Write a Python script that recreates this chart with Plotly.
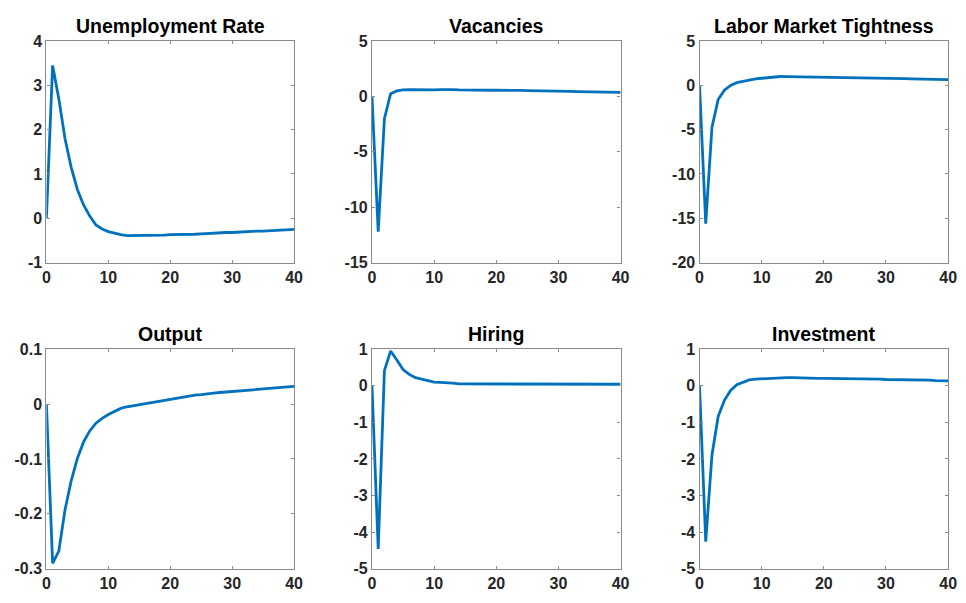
import plotly.graph_objects as go

t = list(range(41))

unemployment = [0, 3.45, 2.7, 1.8, 1.15, 0.65, 0.3, 0.05, -0.15, -0.24, -0.3, -0.34, -0.37, -0.39, -0.39,
                -0.39, -0.39, -0.39, -0.38, -0.38, -0.37, -0.37, -0.37, -0.36, -0.36, -0.35, -0.34, -0.34,
                -0.33, -0.32, -0.32, -0.31, -0.31, -0.30, -0.29, -0.29, -0.28, -0.27, -0.27, -0.26, -0.25]
vacancies = [0, -12.2, -2.0, 0.25, 0.5, 0.6, 0.62, 0.6, 0.62, 0.6, 0.6, 0.62, 0.64, 0.62, 0.6, 0.58,
             0.58, 0.57, 0.57, 0.56, 0.56, 0.57, 0.58, 0.56, 0.54, 0.52, 0.52, 0.5, 0.5, 0.49, 0.48,
             0.47, 0.46, 0.44, 0.43, 0.42, 0.41, 0.4, 0.39, 0.38, 0.37]
tightness = [0, -15.6, -4.75, -1.6, -0.55, 0.0, 0.3, 0.45, 0.65, 0.72, 0.8, 0.88, 0.98, 1.0, 0.98,
             0.97, 0.96, 0.95, 0.94, 0.93, 0.92, 0.93, 0.94, 0.92, 0.9, 0.88, 0.86, 0.85, 0.83, 0.81,
             0.8, 0.78, 0.76, 0.75, 0.73, 0.71, 0.7, 0.68, 0.67, 0.66, 0.65]
output = [0, -0.29, -0.268, -0.193, -0.14, -0.099, -0.069, -0.049, -0.035, -0.026, -0.019, -0.013,
          -0.008, -0.005, -0.003, -0.001, 0.001, 0.003, 0.005, 0.007, 0.008, 0.011, 0.013, 0.015,
          0.016, 0.017, 0.019, 0.02, 0.021, 0.022, 0.023, 0.024, 0.025, 0.026, 0.027, 0.028, 0.029,
          0.03, 0.03, 0.031, 0.032]
hiring = [0, -4.46, 0.41, 0.95, 0.7, 0.44, 0.31, 0.22, 0.18, 0.13, 0.1, 0.09, 0.09, 0.07, 0.05,
          0.05, 0.05, 0.05, 0.05, 0.05, 0.05, 0.05, 0.06, 0.05, 0.05, 0.04, 0.05, 0.04, 0.04, 0.04,
          0.04, 0.05, 0.04, 0.04, 0.04, 0.05, 0.04, 0.04, 0.04, 0.04, 0.04]
investment = [0, -4.26, -1.9, -0.84, -0.4, -0.13, 0.03, 0.1, 0.16, 0.18, 0.19, 0.21, 0.22, 0.22, 0.22,
              0.22, 0.21, 0.21, 0.21, 0.2, 0.2, 0.2, 0.2, 0.2, 0.19, 0.19, 0.19, 0.18, 0.18, 0.18,
              0.17, 0.17, 0.17, 0.16, 0.16, 0.16, 0.15, 0.15, 0.14, 0.14, 0.13]

titles = ["Unemployment Rate", "Vacancies", "Labor Market Tightness", "Output", "Hiring", "Investment"]
series = [unemployment, vacancies, tightness, output, hiring, investment]
y_ranges = [[-1, 4], [-15, 5], [-20, 5], [-0.3, 0.1], [-5, 1], [-5, 1]]
y_dticks = [1, 5, 5, 0.1, 1, 1]
x_ticks = [0, 10, 20, 30, 40]

W, H = 966, 603
col_px = [(43, 294), (373, 625), (705, 957)]
row_px = [(34, 262), (351, 577)]

fig = go.Figure()
tick_font = dict(family="Liberation Sans, Arial, sans-serif", size=16, color="#262626")
axis_color = "#8a8a8a"

for i in range(6):
    r, c = divmod(i, 3)
    n = i + 1
    xs = "" if n == 1 else str(n)
    xd = [col_px[c][0] / W, col_px[c][1] / W]
    yd = [1 - row_px[r][1] / H, 1 - row_px[r][0] / H]
    fig.add_trace(go.Scatter(x=t, y=series[i], mode="lines",
                             line=dict(color="#0072BD", width=2.8),
                             xaxis="x" + xs, yaxis="y" + xs, showlegend=False))
    common = dict(showline=True, linecolor=axis_color, linewidth=1.2, mirror="ticks",
                  ticks="inside", ticklen=3, tickcolor=axis_color, showgrid=False,
                  zeroline=False, tickfont=tick_font)
    fig.layout["xaxis" + xs] = dict(domain=xd, anchor="y" + xs, range=[0, 40],
                                     tickvals=x_ticks, ticktext=[f"<b>{v}</b>" for v in x_ticks],
                                     **common)
    lo, hi = y_ranges[i]
    d = y_dticks[i]
    nt = int(round((hi - lo) / d)) + 1
    yv = [round(lo + k * d, 6) for k in range(nt)]
    yt = [f"<b>{('%g' % v)}</b>" for v in yv]
    fig.layout["yaxis" + xs] = dict(domain=yd, anchor="x" + xs, range=[lo, hi],
                                     tickvals=yv, ticktext=yt, **common)
    fig.add_annotation(text=f"<b>{titles[i]}</b>", xref="paper", yref="paper",
                       x=(xd[0] + xd[1]) / 2, y=yd[1], xanchor="center", yanchor="bottom",
                       yshift=2, showarrow=False,
                       font=dict(family="Liberation Sans, Arial, sans-serif", size=19.5, color="#000000"))

fig.update_layout(width=W, height=H, margin=dict(l=0, r=0, t=0, b=0),
                  paper_bgcolor="white", plot_bgcolor="white")

fig.write_html("out.html")
